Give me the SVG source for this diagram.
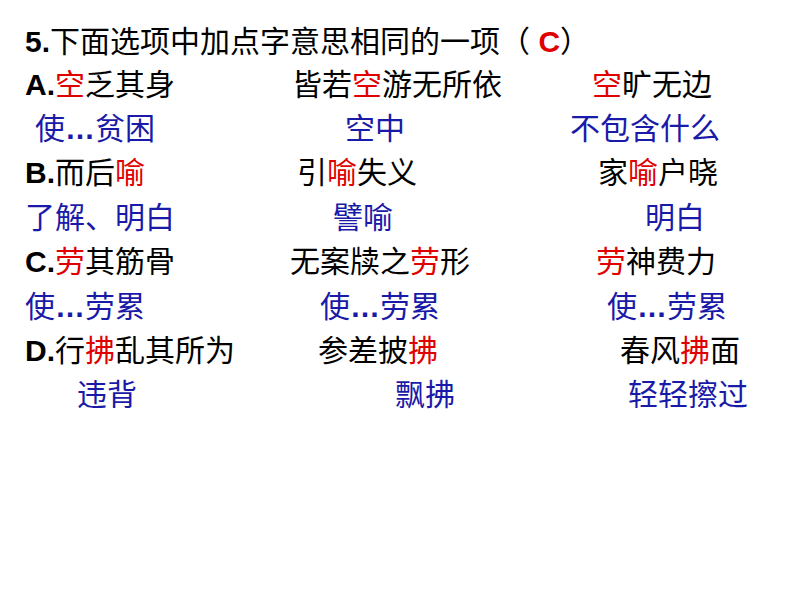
<svg xmlns="http://www.w3.org/2000/svg" width="794" height="596" viewBox="0 0 794 596">
<style>
text{font-family:"Liberation Sans","Noto Sans CJK SC",sans-serif;font-size:30px;fill:#000}
.b{fill:#1a1aa8}.r{fill:#e00000}.w{font-weight:bold}
</style>
<rect width="794" height="596" fill="#fff"/>
<g id="title"><text x="25" y="52"><tspan class="w">5.</tspan>下面选项中加点字意思相同的一项（ <tspan class="r w">C</tspan>）</text></g>
<g id="rowA">
<text x="25" y="95"><tspan class="w">A.</tspan><tspan class="r">空</tspan>乏其身</text>
<text x="292" y="95">皆若<tspan class="r">空</tspan>游无所依</text>
<text x="592" y="95"><tspan class="r">空</tspan>旷无边</text>
<text class="b" x="35" y="139">使<tspan class="w">…</tspan>贫困</text>
<text class="b" x="345" y="139">空中</text>
<text class="b" x="570" y="139">不包含什么</text>
</g>
<g id="rowB">
<text x="25" y="183"><tspan class="w">B.</tspan>而后<tspan class="r">喻</tspan></text>
<text x="297" y="183">引<tspan class="r">喻</tspan>失义</text>
<text x="598" y="183">家<tspan class="r">喻</tspan>户晓</text>
<text class="b" x="25" y="228">了解、明白</text>
<text class="b" x="333" y="228">譬喻</text>
<text class="b" x="645" y="228">明白</text>
</g>
<g id="rowC">
<text x="25" y="272"><tspan class="w">C.</tspan><tspan class="r">劳</tspan>其筋骨</text>
<text x="290" y="272">无案牍之<tspan class="r">劳</tspan>形</text>
<text x="596" y="272"><tspan class="r">劳</tspan>神费力</text>
<text class="b" x="25" y="317">使<tspan class="w">…</tspan>劳累</text>
<text class="b" x="320" y="317">使<tspan class="w">…</tspan>劳累</text>
<text class="b" x="607" y="317">使<tspan class="w">…</tspan>劳累</text>
</g>
<g id="rowD">
<text x="25" y="361"><tspan class="w">D.</tspan>行<tspan class="r">拂</tspan>乱其所为</text>
<text x="318" y="361">参差披<tspan class="r">拂</tspan></text>
<text x="620" y="361">春风<tspan class="r">拂</tspan>面</text>
<text class="b" x="77" y="405">违背</text>
<text class="b" x="395" y="405">飘拂</text>
<text class="b" x="628" y="405">轻轻擦过</text>
</g>
<g id="connectors"/>
</svg>
